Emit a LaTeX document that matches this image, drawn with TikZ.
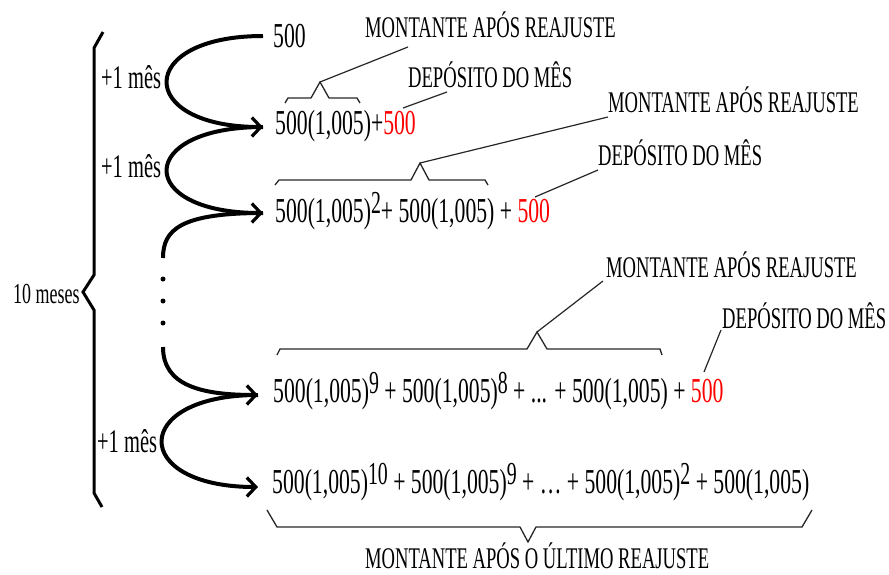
\documentclass[tikz,border=0pt]{standalone}
\usepackage{fontspec}
\setmainfont{Liberation Serif}[FakeStretch=0.62]
\usetikzlibrary{arrows.meta}
\newcommand\ex[1]{\raisebox{9pt}{\fontsize{32}{32}\selectfont #1}}
\begin{document}
\begin{tikzpicture}[x=1pt,y=-1pt,
  fml/.style={anchor=base west,inner sep=0pt,font=\fontsize{35}{38}\selectfont},
  lab/.style={anchor=base west,inner sep=0pt,font=\fontsize{30}{32}\selectfont},
  mes/.style={anchor=base west,inner sep=0pt,font=\fontsize{33}{35}\selectfont},
  arr/.style={line width=4pt,-{Straight Barb[length=9pt,width=19pt,line width=3.2pt]}},
  crv/.style={line width=4pt},
  brc/.style={line width=1.3pt,draw=black!85},
  lead/.style={line width=1.2pt,draw=black!85},
  bigbrace/.style={line width=3pt,line join=miter},
  dot/.style={fill=black,circle,inner sep=0pt,minimum size=5pt}
]
\useasboundingbox (0,0) rectangle (889,575);

% formula rows
\node[fml] (r1) at (273,48) {500};
\node[fml] (r2) at (275,135) {500(1,005)+\textcolor{red}{500}};
\node[fml] (r3) at (275,222) {500(1,005)\ex{2}+ 500(1,005) + \textcolor{red}{500}};
\node[fml] (r4) at (273,402) {500(1,005)\ex{9} + 500(1,005)\ex{8} + ... + 500(1,005) + \textcolor{red}{500}};
\node[fml] (r5) at (272,493) {500(1,005)\ex{10} + 500(1,005)\ex{9} + \ldots{} + 500(1,005)\ex{2} + 500(1,005)};

% labels
\node[lab] (m1) at (365,38) {MONTANTE APÓS REAJUSTE};
\node[lab] (d1) at (408,88) {DEPÓSITO DO MÊS};
\node[lab] (m2) at (608,113) {MONTANTE APÓS REAJUSTE};
\node[lab] (d2) at (598,165) {DEPÓSITO DO MÊS};
\node[lab] (m3) at (606,277) {MONTANTE APÓS REAJUSTE};
\node[lab] (d3) at (722,328) {DEPÓSITO DO MÊS};
\node[lab] (m4) at (365,568) {MONTANTE APÓS O ÚLTIMO REAJUSTE};

% months
\node[mes] (p1) at (101,89) {+1 mês};
\node[mes] (p2) at (101,177) {+1 mês};
\node[mes] (p3) at (97,452) {+1 mês};
\node[anchor=base west,inner sep=0pt,font=\fontsize{29}{31}\selectfont] (tm) at (13,303) {10 meses};

% big brace
\draw[bigbrace] (103,32) -- (94,48) -- (94,275) -- (83,292) -- (94,310) -- (94,493) -- (102,507);

% arrow end points
\coordinate (a0) at (263,36);
\coordinate (a1) at (263,127);
\coordinate (a2) at (263,213);
\coordinate (a3s) at (163,258);
\coordinate (a3e) at (163,347);
\coordinate (a3) at (258,395);
\coordinate (a4) at (258,487);

\draw[arr] (a0) .. controls (135,36) and (135,127) .. (a1);
\draw[arr] (a1) .. controls (135,127) and (135,213) .. (a2);
\draw[crv] (a2) .. controls (180,213) and (163,230) .. (a3s);
\node[dot] (o1) at (163,279) {};
\node[dot] (o2) at (163,301) {};
\node[dot] (o3) at (163,323) {};
\draw[arr] (a3e) .. controls (163,385) and (200,395) .. (a3);
\draw[arr] (a3) .. controls (130,395) and (130,487) .. (a4);

% braces
\coordinate (t1) at (320,82);
\draw[brc] (285,103) -- (288,98) -- (311,98) -- (t1) -- (329,98) -- (357,98) -- (360,103);
\coordinate (t2) at (420,163);
\draw[brc] (275,185) -- (279,180) -- (411,180) -- (t2) -- (429,180) -- (485,180) -- (488,185);
\coordinate (t3) at (537,332);
\draw[brc] (277,355) -- (280,349) -- (527,349) -- (t3) -- (547,349) -- (660,349) -- (662,355);
\coordinate (t4) at (528,542);
\draw[brc] (267,510) -- (277,527) -- (520,527) -- (t4) -- (536,527) -- (802,527) -- (812,510);

% leaders
\coordinate (e1) at (408,47);
\coordinate (e2) at (608,117);
\coordinate (e3) at (603,281);
\draw[lead] (t1) -- (e1);
\draw[lead] (t2) -- (e2);
\draw[lead] (t3) -- (e3);
\coordinate (s1) at (403,108);
\coordinate (f1) at (447,92);
\coordinate (s2) at (535,197);
\coordinate (f2) at (598,170);
\coordinate (s3) at (704,372);
\coordinate (f3) at (721,330);
\draw[lead] (s1) -- (f1);
\draw[lead] (s2) -- (f2);
\draw[lead] (s3) -- (f3);
\end{tikzpicture}
\end{document}
